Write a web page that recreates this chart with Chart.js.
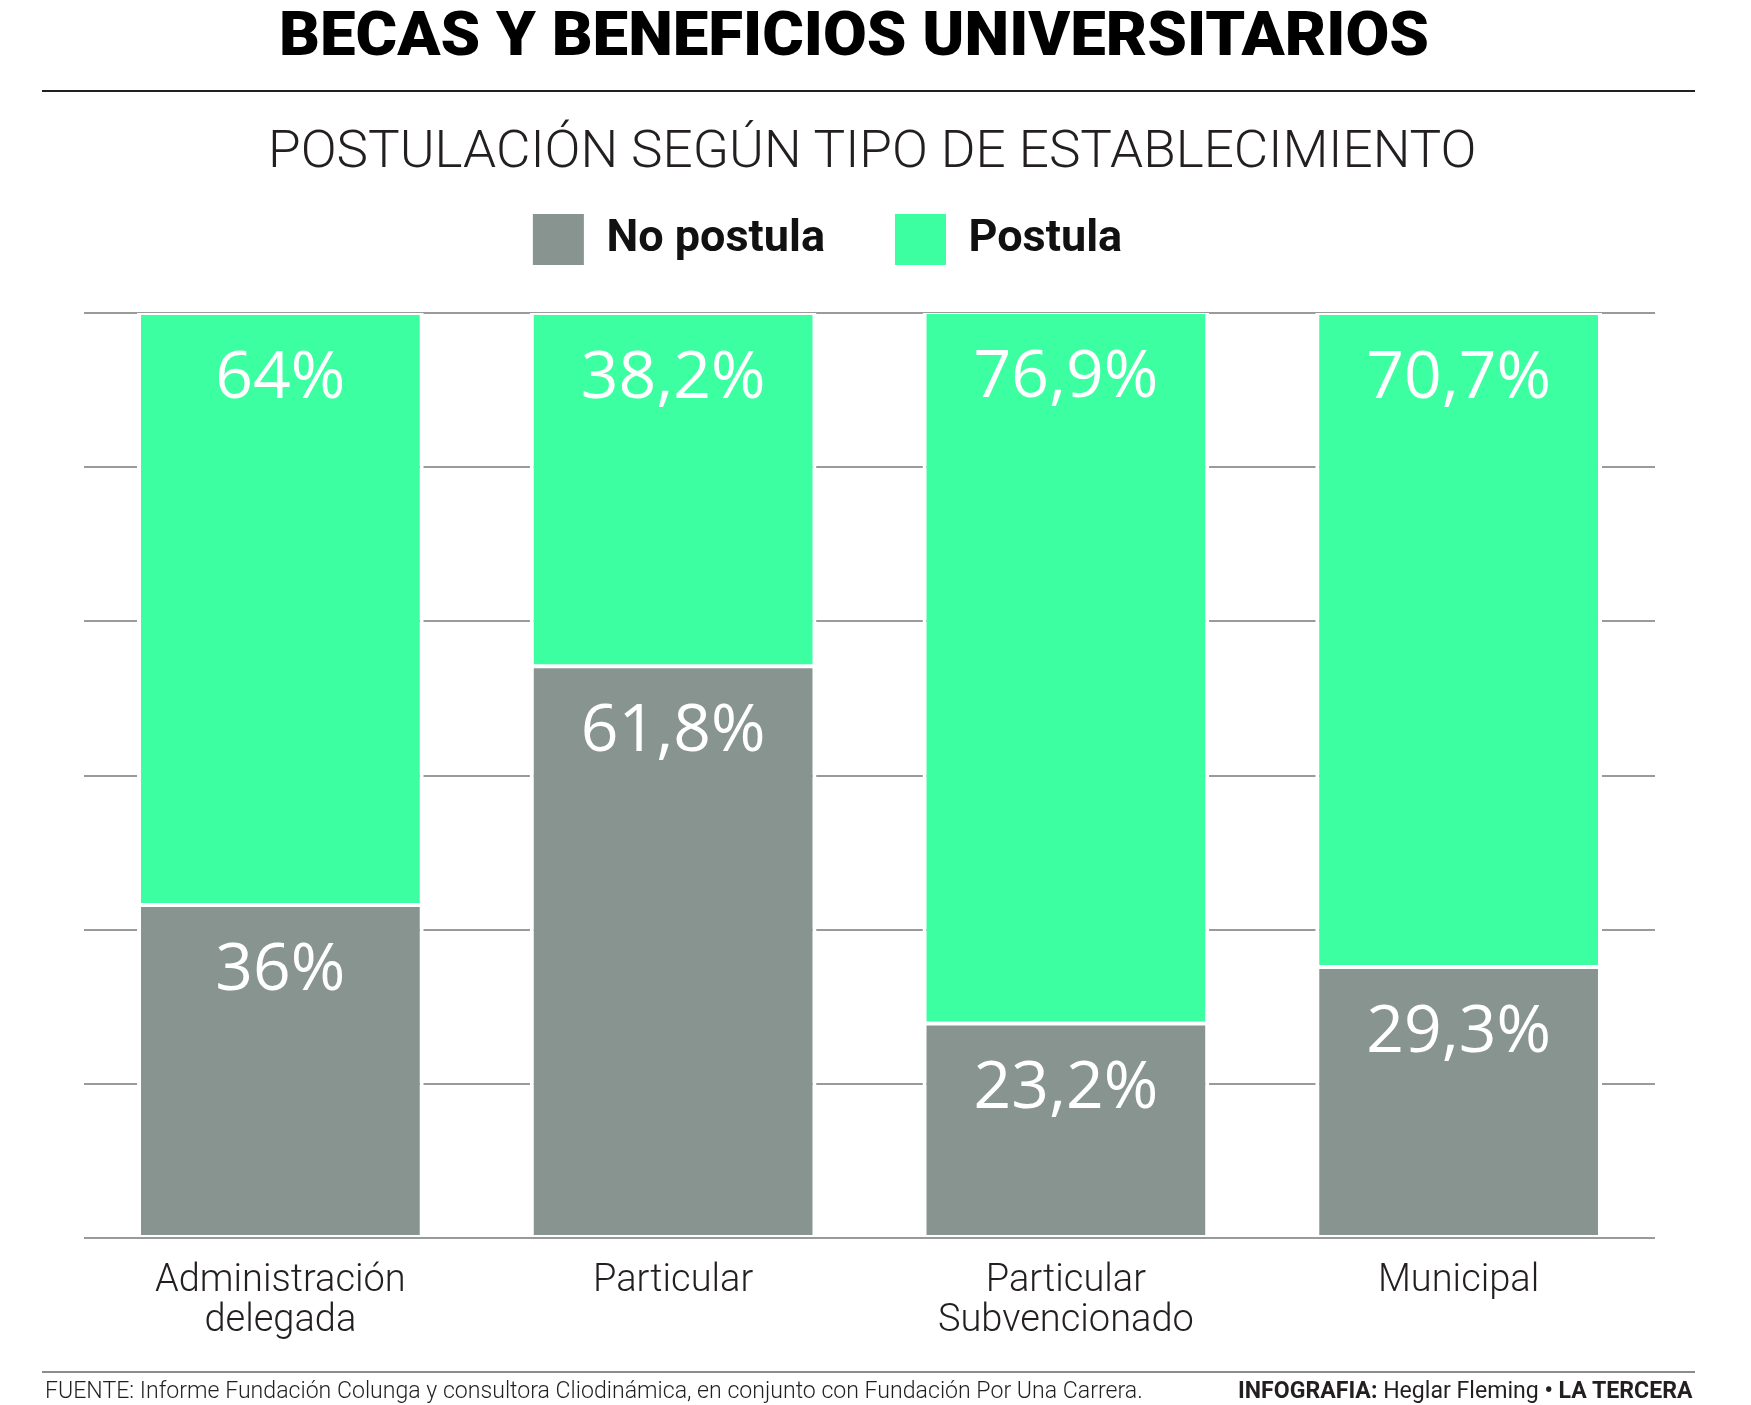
<!DOCTYPE html>
<html lang="es">
<head>
<meta charset="UTF-8">
<title>Becas y beneficios universitarios</title>
<script src="https://cdn.jsdelivr.net/npm/chart.js@4.4.1/dist/chart.umd.min.js"></script>
<style>
    body { margin: 0; background: #fff; }
    .page {
        position: relative;
        width: 1751px;
        height: 1405px;
        overflow: hidden;
        font-family: Roboto, 'Open Sans', sans-serif;
        color: #231f20;
    }
    #chart { position: absolute; left: 0; top: 0; }
    .txt {
        position: absolute;
        white-space: nowrap;
        line-height: 1;
        transform-origin: left top;
    }
    #title { left: 279px; top: 4px; font-size: 61px; font-weight: 900; color: #000; }
    #subtitle { left: 268px; top: 124px; font-size: 52px; font-weight: 300; }
    #source { left: 45px; top: 1379px; font-size: 23px; font-weight: 300; }
    #credit { left: 1238px; top: 1379px; font-size: 23px; font-weight: 400; }
    #credit b { font-weight: 700; }
    .rule { position: absolute; left: 42px; width: 1653px; height: 2px; }
    #rule-top { top: 90px; background: #231f20; }
    #rule-bottom { top: 1371px; background: #8c8c8c; }
</style>
</head>
<body>
<div class="page">
    <canvas id="chart" width="1751" height="1405"></canvas>
    <div class="txt" id="title">BECAS Y BENEFICIOS UNIVERSITARIOS</div>
    <div class="rule" id="rule-top"></div>
    <div class="txt" id="subtitle">POSTULACIÓN SEGÚN TIPO DE ESTABLECIMIENTO</div>
    <div class="rule" id="rule-bottom"></div>
    <div class="txt" id="source">FUENTE: Informe Fundación Colunga y consultora Cliodinámica, en conjunto con Fundación Por Una Carrera.</div>
    <div class="txt" id="credit"><b>INFOGRAFIA:</b> Heglar Fleming <b>• LA TERCERA</b></div>
</div>

<script>
    // data (percent of students)
    const categories = [['Administración', 'delegada'], 'Particular', ['Particular', 'Subvencionado'], 'Municipal'];
    const seriesNames = ['No postula', 'Postula'];
    const noPostula = [36, 61.8, 23.2, 29.3];
    const postula = [64, 38.2, 76.9, 70.7];
    const seriesColors = ['#879490', '#3bffa0'];

    // stretch the html texts to the widths they have in the print version
    function fitWidth(id, width) {
        const el = document.getElementById(id);
        el.style.transform = 'scaleX(' + (width / el.offsetWidth) + ')';
    }
    fitWidth('title', 1150);
    fitWidth('subtitle', 1209);
    fitWidth('source', 1098);
    fitWidth('credit', 455);

    const fmt = v => String(v).replace('.', ',') + '%';

    // white percentage inside every segment, near its top
    const valueLabels = {
        id: 'valueLabels',
        afterDatasetsDraw(chart) {
            const ctx = chart.ctx;
            ctx.save();
            ctx.fillStyle = '#fff';
            ctx.font = '66px "Open Sans", sans-serif';
            ctx.textAlign = 'center';
            ctx.textBaseline = 'alphabetic';
            chart.data.datasets.forEach((ds, i) => {
                chart.getDatasetMeta(i).data.forEach((bar, j) => {
                    ctx.fillText(fmt(ds.data[j]), bar.x, bar.y + 85);
                });
            });
            ctx.restore();
        }
    };

    // extra room under the legend, and nudge it a bit to the left
    const legendSpacing = {
        id: 'legendSpacing',
        beforeInit(chart) {
            const originalFit = chart.legend.fit;
            chart.legend.fit = function fit() {
                originalFit.bind(chart.legend)();
                this.height += 38;
            };
        },
        afterLayout(chart) {
            chart.legend.left -= 42;
            chart.legend.right -= 42;
        }
    };

    const ctx = document.getElementById('chart').getContext('2d');
    new Chart(ctx, {
        type: 'bar',
        data: {
            labels: categories,
            datasets: [
                { label: seriesNames[0], data: noPostula, backgroundColor: seriesColors[0] },
                { label: seriesNames[1], data: postula, backgroundColor: seriesColors[1] }
            ].map(ds => Object.assign(ds, {
                borderColor: '#fff',
                borderWidth: { top: 2, bottom: 2, left: 4, right: 4 },
                borderSkipped: false,
                categoryPercentage: 1,
                barPercentage: 0.73
            }))
        },
        options: {
            responsive: false,
            animation: false,
            layout: { padding: { left: 84, right: 96, top: 144, bottom: 0 } },
            plugins: {
                legend: {
                    position: 'top',
                    labels: {
                        boxWidth: 51,
                        boxHeight: 51,
                        padding: 70,
                        color: '#111',
                        font: { family: 'Roboto', size: 45, weight: 'bold' },
                        generateLabels: chart => chart.data.datasets.map((ds, i) => ({
                            text: ds.label,
                            fillStyle: ds.backgroundColor,
                            strokeStyle: ds.backgroundColor,
                            lineWidth: 0,
                            fontColor: '#111',
                            datasetIndex: i
                        }))
                    }
                },
                tooltip: { enabled: false }
            },
            scales: {
                x: {
                    stacked: true,
                    grid: { display: false },
                    border: { display: false },
                    ticks: {
                        padding: 15,
                        color: '#231f20',
                        font: { family: 'Roboto', size: 38, weight: '300', lineHeight: 40 / 38 }
                    },
                    afterFit(scale) { scale.height = 167; }
                },
                y: {
                    stacked: true,
                    min: 0,
                    max: 100,
                    grid: { color: '#9a9a9a', lineWidth: 2, drawTicks: false },
                    border: { display: false },
                    ticks: { display: false },
                    afterBuildTicks(scale) {
                        scale.ticks = [0, 1, 2, 3, 4, 5, 6].map(i => ({ value: i * 100 / 6 }));
                    }
                }
            }
        },
        plugins: [valueLabels, legendSpacing]
    });
</script>
</body>
</html>
